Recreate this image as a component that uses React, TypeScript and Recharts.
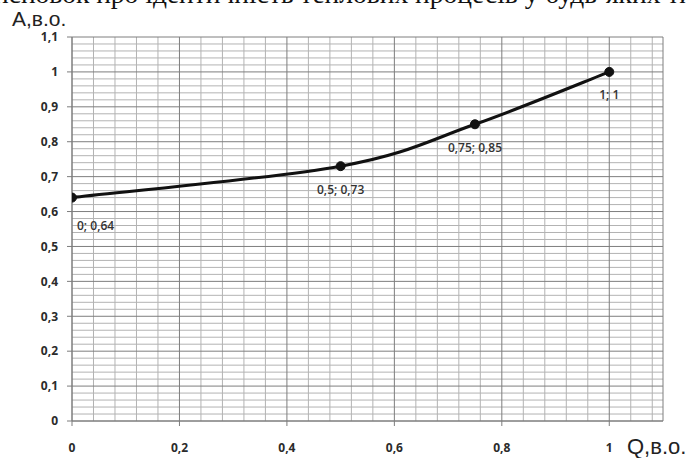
import { LineChart, Line, XAxis, YAxis, CartesianGrid, LabelList, ReferenceLine } from "recharts";

// Q (в.о.) vs A (в.о.)
const qValues = [0, 0.5, 0.75, 1];
const aValues = [0.64, 0.73, 0.85, 1];
const pointLabels = ["0; 0,64", "0,5; 0,73", "0,75; 0,85", "1; 1"];

const xTicks = [0, 0.2, 0.4, 0.6, 0.8, 1];
const yTicks = [0, 0.1, 0.2, 0.3, 0.4, 0.5, 0.6, 0.7, 0.8, 0.9, 1, 1.1];

// fine grid of the graph paper
const minorX: number[] = [];
for (let i = 1; i <= 27; i++) if (i % 5 !== 0) minorX.push(+(i * 0.04).toFixed(2));
const minorY: number[] = [];
for (let i = 1; i <= 54; i++) if (i % 5 !== 0) minorY.push(+(i * 0.02).toFixed(2));

const data = qValues.map((q, i) => ({ q, a: aValues[i], label: pointLabels[i] }));

const fmt = (v: number) => String(v).replace(".", ",");

// Excel-style smoothed line (Catmull-Rom through the points)
const excelSmooth = (context: any) => {
  let pts: [number, number][] = [];
  return {
    areaStart() {},
    areaEnd() {},
    lineStart() {
      pts = [];
    },
    point(x: number, y: number) {
      pts.push([+x, +y]);
    },
    lineEnd() {
      if (!pts.length) return;
      context.moveTo(pts[0][0], pts[0][1]);
      for (let i = 0; i < pts.length - 1; i++) {
        const p0 = pts[Math.max(i - 1, 0)];
        const p1 = pts[i];
        const p2 = pts[i + 1];
        const p3 = pts[Math.min(i + 2, pts.length - 1)];
        context.bezierCurveTo(
          p1[0] + (p2[0] - p0[0]) / 6,
          p1[1] + (p2[1] - p0[1]) / 6,
          p2[0] - (p3[0] - p1[0]) / 6,
          p2[1] - (p3[1] - p1[1]) / 6,
          p2[0],
          p2[1]
        );
      }
    },
  };
};

const tickStyle = {
  fill: "#2b2b2b",
  fontFamily: "Open Sans, sans-serif",
  fontWeight: 700,
  fontSize: 12,
};

const renderPointLabel = (props: any) => {
  const { x = 0, y = 0, value, index } = props;
  const first = index === 0;
  return (
    <text
      x={first ? x + 5 : x}
      y={first ? y + 28 : y + 23}
      textAnchor={first ? "start" : "middle"}
      dominantBaseline="central"
      fill="#333"
      fontFamily="Open Sans, sans-serif"
      fontWeight={600}
      fontSize={12}
    >
      {value}
    </text>
  );
};

export default function App() {
  return (
    <div
      style={{
        position: "absolute",
        left: 0,
        top: 0,
        width: 687,
        height: 458,
        background: "#fff",
        overflow: "hidden",
      }}
    >
      <div
        style={{
          position: "absolute",
          left: -19,
          top: -20,
          whiteSpace: "nowrap",
          fontFamily: "Liberation Serif, serif",
          fontSize: 27.5,
          lineHeight: 1,
          color: "#111",
        }}
      >
        висновок про ідентичність теплових процесів у будь-яких типах
      </div>
      <div
        style={{
          position: "absolute",
          left: 12,
          top: 11,
          fontFamily: "Liberation Sans, Arial, sans-serif",
          fontSize: 21,
          lineHeight: 0.8,
          color: "#222",
        }}
      >
        A,в.о.
      </div>
      <div
        style={{
          position: "absolute",
          left: 627,
          top: 436,
          fontFamily: "Liberation Sans, Arial, sans-serif",
          fontSize: 22,
          lineHeight: 1,
          color: "#222",
        }}
      >
        Q,в.о.
      </div>
      <LineChart
        width={687}
        height={458}
        data={data}
        margin={{ top: 37, right: 24, bottom: 0, left: 0 }}
      >
        <XAxis
          type="number"
          dataKey="q"
          domain={[0, 1.1]}
          ticks={xTicks}
          tickFormatter={fmt}
          height={37}
          tickSize={5}
          tickMargin={17}
          tick={tickStyle}
          stroke="#7c7c7c"
          allowDataOverflow
        />
        <YAxis
          type="number"
          domain={[0, 1.1]}
          ticks={yTicks}
          tickFormatter={fmt}
          width={72}
          tickSize={5}
          tickMargin={9}
          tick={tickStyle}
          stroke="#7c7c7c"
          allowDataOverflow
        />
        {minorX.map((v) => (
          <ReferenceLine key={`mx${v}`} x={v} stroke="#b3b3b3" strokeWidth={1} zIndex={-110} />
        ))}
        {minorY.map((v) => (
          <ReferenceLine key={`my${v}`} y={v} stroke="#b3b3b3" strokeWidth={1} zIndex={-110} />
        ))}
        <CartesianGrid stroke="#7e7e7e" strokeWidth={1} />
        <Line
          dataKey="a"
          type={excelSmooth as any}
          stroke="#111"
          strokeWidth={3}
          dot={{ r: 4.5, fill: "#111", stroke: "#111", strokeWidth: 1 }}
          isAnimationActive={false}
        >
          <LabelList dataKey="label" content={renderPointLabel} />
        </Line>
      </LineChart>
    </div>
  );
}
